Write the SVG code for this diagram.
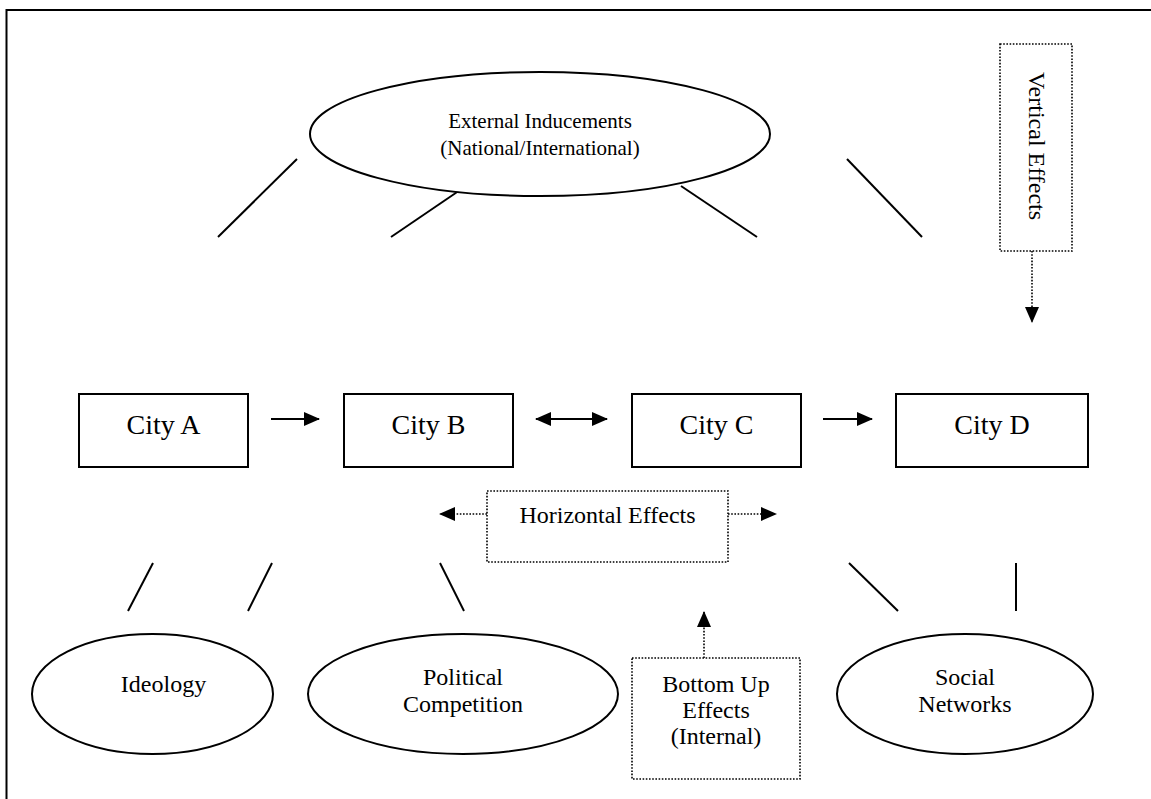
<svg xmlns="http://www.w3.org/2000/svg" width="1151" height="799" viewBox="0 0 1151 799">
<defs>
<style>
.s{fill:none;stroke:#000;stroke-width:2}
.d{fill:none;stroke:#000;stroke-width:1.6;stroke-dasharray:1.6 1.6}
.n{fill:#fff;stroke:#000;stroke-width:2}
.t{font-family:"Liberation Serif","Times New Roman",serif;fill:#000;text-anchor:middle}
</style>
<marker id="ah" viewBox="0 0 16 14" refX="15" refY="7" markerWidth="16" markerHeight="14" orient="auto-start-reverse" markerUnits="userSpaceOnUse">
<path d="M0,0 L16,7 L0,14 z" fill="#000"/>
</marker>
</defs>
<rect width="1151" height="799" fill="#fff"/>
<path class="s" d="M6.5,800 V10 H1152"/>
<g id="connectors">
<line class="s" x1="297" y1="159" x2="218" y2="237"/>
<line class="s" x1="466" y1="186" x2="391" y2="237"/>
<line class="s" x1="681" y1="186" x2="757" y2="237"/>
<line class="s" x1="847" y1="159" x2="922" y2="237"/>
<line class="s" x1="153" y1="563" x2="128" y2="611"/>
<line class="s" x1="272" y1="563" x2="248" y2="611"/>
<line class="s" x1="440" y1="563" x2="464" y2="611"/>
<line class="s" x1="849" y1="563" x2="898" y2="611"/>
<line class="s" x1="1016" y1="563" x2="1016" y2="611"/>
<line class="s" x1="271" y1="419" x2="319" y2="419" marker-end="url(#ah)"/>
<line class="s" x1="536" y1="419" x2="607" y2="419" marker-start="url(#ah)" marker-end="url(#ah)"/>
<line class="s" x1="823" y1="419" x2="872" y2="419" marker-end="url(#ah)"/>
<line class="d" x1="487" y1="514" x2="440" y2="514" marker-end="url(#ah)"/>
<line class="d" x1="728" y1="514" x2="776" y2="514" marker-end="url(#ah)"/>
<line class="d" x1="1032" y1="251" x2="1032" y2="322" marker-end="url(#ah)"/>
<line class="d" x1="704" y1="658" x2="704" y2="612" marker-end="url(#ah)"/>
</g>
<g id="external">
<ellipse class="n" cx="540" cy="134" rx="230" ry="62"/>
<text class="t" x="540" y="128" font-size="21">External Inducements</text>
<text class="t" x="540" y="155" font-size="21">(National/International)</text>
</g>
<g id="vertical">
<rect class="d" x="1000" y="44" width="72" height="207"/>
<text class="t" font-size="24" transform="translate(1029,146) rotate(90)">Vertical Effects</text>
</g>
<g id="cityA">
<rect class="n" x="79" y="394" width="169" height="73"/>
<text class="t" x="163.5" y="434" font-size="28">City A</text>
</g>
<g id="cityB">
<rect class="n" x="344" y="394" width="169" height="73"/>
<text class="t" x="428.5" y="434" font-size="28">City B</text>
</g>
<g id="cityC">
<rect class="n" x="632" y="394" width="169" height="73"/>
<text class="t" x="716.5" y="434" font-size="28">City C</text>
</g>
<g id="cityD">
<rect class="n" x="896" y="394" width="192" height="73"/>
<text class="t" x="992" y="434" font-size="28">City D</text>
</g>
<g id="horizontal">
<rect class="d" x="487" y="491" width="241" height="71"/>
<text class="t" x="607.5" y="523" font-size="24">Horizontal Effects</text>
</g>
<g id="ideology">
<ellipse class="n" cx="152.5" cy="694" rx="120.5" ry="60"/>
<text class="t" x="163.5" y="692" font-size="24">Ideology</text>
</g>
<g id="political">
<ellipse class="n" cx="463" cy="694" rx="155" ry="60"/>
<text class="t" x="463" y="685" font-size="24">Political</text>
<text class="t" x="463" y="712" font-size="24">Competition</text>
</g>
<g id="bottomup">
<rect class="d" x="632" y="658" width="168" height="121"/>
<text class="t" x="716" y="692" font-size="24">Bottom Up</text>
<text class="t" x="716" y="718" font-size="24">Effects</text>
<text class="t" x="716" y="744" font-size="24">(Internal)</text>
</g>
<g id="social">
<ellipse class="n" cx="965" cy="694" rx="128" ry="60"/>
<text class="t" x="965" y="685" font-size="24">Social</text>
<text class="t" x="965" y="712" font-size="24">Networks</text>
</g>
</svg>
